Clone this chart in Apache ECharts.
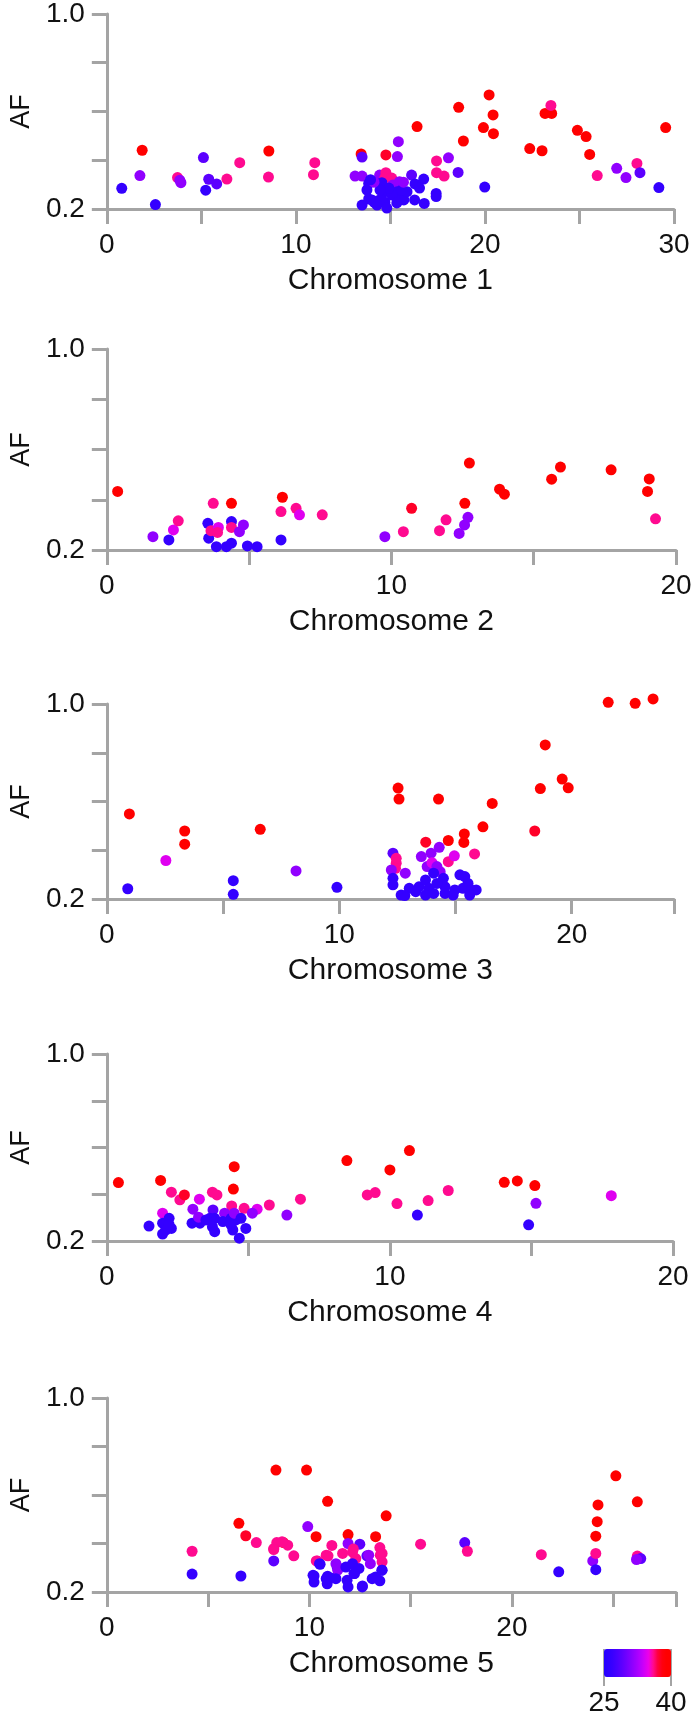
<!DOCTYPE html>
<html><head><meta charset="utf-8">
<script src="https://cdn.jsdelivr.net/npm/echarts@6/dist/echarts.min.js"></script>
<style>html,body{margin:0;padding:0;background:#fff}#c{width:697px;height:1717px}</style>
</head><body><div id="c"></div>
<script>
// ---------- data ----------
const chromosomeNames = ['Chromosome 1', 'Chromosome 2', 'Chromosome 3', 'Chromosome 4', 'Chromosome 5'];
const chromosomeLength = [30, 20, 24.4, 20, 28.1];
const xTickStep = 5;
const xLabelStep = 10;
const afTickStep = 0.2;
const afLabels = ['0.2', '1.0'];
const coverageRange = [25, 40];
const coverageTickLabels = ['25', '40'];
const coverageColors = ['#2400ff','#2e00ff','#3a00ff','#4a00ff','#5c00ff','#7000ff','#8600ff','#9c00ff',
                        '#b400ff','#d000f8','#ee00e8','#ff0a90','#ff0040','#ff0010','#ff0000','#ff0000'];

const chr1Pos = [0.79,1.75,1.87,2.57,3.74,3.92,3.86,5.11,5.39,5.23,5.81,6.35,7.03,8.57,8.55,11.0,10.93,
  13.45,13.5,13.13,13.5,13.85,13.76,13.85,14.15,14.43,14.76,15.42,15.37,14.76,14.7,15.07,14.55,14.71,14.43,14.71,
  15.13,15.48,15.36,15.4,15.71,15.71,15.88,16.12,16.3,16.41,16.76,16.79,17.44,17.44,17.42,17.42,17.84,18.07,18.58,
  18.61,18.86,19.92,19.99,20.22,20.43,20.45,22.37,23.02,23.18,23.53,23.49,24.89,25.35,25.54,25.94,26.97,27.46,28.04,
  28.2,29.2,29.56,14.02,14.55,15.07,15.6,15.34,14.29,14.81,13.5,16.28,16.54,14.92,14.45,14.13,15.69,13.95];
const chr1AF = [0.285,0.337,0.441,0.218,0.329,0.308,0.318,0.411,0.322,0.277,0.303,0.323,0.39,0.438,0.331,0.39,0.341,
  0.426,0.413,0.335,0.335,0.305,0.278,0.241,0.227,0.339,0.422,0.476,0.415,0.349,0.327,0.327,0.308,0.271,0.237,0.227,
  0.298,0.312,0.271,0.244,0.264,0.237,0.271,0.339,0.303,0.538,0.323,0.223,0.397,0.349,0.264,0.251,0.335,0.41,0.35,
  0.617,0.479,0.534,0.29,0.668,0.586,0.509,0.448,0.439,0.592,0.592,0.625,0.523,0.497,0.424,0.337,0.367,0.329,0.387,
  0.349,0.288,0.534,0.237,0.237,0.257,0.278,0.225,0.216,0.204,0.216,0.237,0.286,0.286,0.278,0.31,0.31,0.32];
const chr1Cov = [26.5,31.5,39.5,26.5,36,31.5,31.5,29,29,26.5,29,36,36,39.5,36,36,36,
  39.5,29,31.5,31.5,26.5,26.5,26.5,26.5,31.5,37.5,31.5,31.5,36,36,36,26.5,26.5,26.5,26.5,
  31.5,31.5,26.5,26.5,26.5,26.5,26.5,29,26.5,39.5,26.5,26.5,36,36,26.5,26.5,36,31.5,29,
  39.5,39.5,39.5,26.5,39.5,39.5,39.5,39.5,39.5,39.5,39.5,36,39.5,39.5,39.5,36,31.5,31.5,36,
  29,26.5,39.5,26.5,26.5,26.5,26.5,26.5,26.5,26.5,26.5,26.5,26.5,26.5,26.5,31.5,31.5,26.5];

const chr2Pos = [0.38,1.62,2.18,2.34,2.51,3.55,3.58,3.74,3.66,3.92,3.89,3.85,4.2,4.38,4.38,4.38,4.38,4.66,4.8,4.94,
  5.28,6.12,6.12,6.17,6.65,6.77,7.57,9.77,10.42,10.71,11.69,11.92,12.38,12.57,12.69,12.58,12.74,13.8,13.97,15.63,
  15.94,17.72,19.06,19.0,19.28];
const chr2AF = [0.433,0.253,0.24,0.28,0.316,0.306,0.247,0.386,0.277,0.29,0.27,0.213,0.213,0.227,0.386,0.313,0.29,0.273,0.3,0.216,
  0.213,0.24,0.353,0.41,0.366,0.34,0.34,0.253,0.273,0.366,0.277,0.32,0.266,0.3,0.33,0.386,0.546,0.442,0.422,0.482,
  0.53,0.519,0.483,0.433,0.324];
const chr2Cov = [39.5,31.5,26.5,34.5,36,26.5,26.5,36,36,34.5,36,26.5,26.5,26.5,39.5,26.5,36,31.5,31.5,26.5,
  26.5,26.5,36,39.5,36,34.5,36,31.5,36,37.5,36,36,31.5,31.5,31.5,39.5,39.5,39.5,39.5,39.5,
  39.5,39.5,39.5,39.5,36];

const chr3Pos = [0.9,0.97,2.54,3.35,3.35,5.44,5.44,6.6,8.14,9.9,12.53,12.57,14.27,16.58,16.18,15.38,15.36,14.69,13.72,14.3,
  15.82,14.69,14.95,18.41,18.65,18.86,19.59,19.85,21.57,22.73,23.5,
  13.95,13.53,12.31,12.45,12.45,12.42,12.24,12.84,13.78,13.99,14.2,14.34,12.31,12.31,12.66,13.01,13.43,13.71,13.85,
  14.06,14.48,14.55,14.55,14.2,14.06,15.19,15.4,15.54,15.32,15.68,15.89,14.97,14.9,15.61,13.29,13.71,12.82];
const chr3AF = [0.242,0.549,0.358,0.479,0.425,0.275,0.219,0.486,0.315,0.248,0.655,0.61,0.61,0.592,0.496,0.467,0.432,0.44,0.433,0.412,
  0.385,0.353,0.377,0.479,0.653,0.832,0.692,0.656,1.007,1.003,1.021,
  0.388,0.374,0.388,0.367,0.347,0.326,0.319,0.306,0.333,0.349,0.333,0.312,0.285,0.258,0.216,0.244,0.25,0.278,0.244,
  0.223,0.285,0.25,0.223,0.264,0.306,0.299,0.292,0.264,0.244,0.237,0.237,0.237,0.216,0.216,0.23,0.216,0.214];
const chr3Cov = [26.5,39.5,34.5,39.5,39.5,26.5,26.5,39.5,31.5,26.5,39.5,39.5,39.5,39.5,39.5,39.5,39.5,39.5,37.5,31.5,
  36,36,34.5,37.5,39.5,39.5,39.5,39.5,39.5,39.5,39.5,
  31.5,31.5,29,36,36,36,31.5,31.5,31.5,34.5,31.5,31.5,26.5,26.5,26.5,26.5,26.5,26.5,26.5,
  26.5,26.5,26.5,26.5,26.5,26.5,26.5,26.5,26.5,26.5,26.5,26.5,26.5,26.5,26.5,26.5,26.5,26.5];

const chr4Pos = [0.41,1.9,1.97,1.49,2.28,2.58,2.74,3.27,3.04,3.73,3.89,4.47,4.5,4.41,4.85,5.31,5.14,5.74,6.84,6.36,
  8.48,9.2,9.48,10.0,10.69,10.25,10.97,11.35,12.06,14.04,14.5,15.12,14.9,15.16,17.82,
  1.97,1.97,2.2,2.28,2.08,2.2,3.01,3.29,3.24,3.75,3.81,3.64,3.73,3.81,4.16,4.1,4.39,4.56,4.45,4.68,4.91,4.5,4.74,4.39,3.5];
const chr4AF = [0.45,0.459,0.319,0.264,0.409,0.376,0.397,0.379,0.336,0.409,0.397,0.422,0.518,0.35,0.34,0.336,0.319,0.354,0.379,0.311,
  0.544,0.397,0.407,0.504,0.587,0.36,0.311,0.373,0.416,0.451,0.457,0.437,0.269,0.361,0.394,
  0.276,0.23,0.297,0.254,0.247,0.27,0.276,0.276,0.302,0.333,0.297,0.297,0.261,0.24,0.319,0.283,0.297,0.29,0.247,0.212,0.254,0.319,0.297,0.269,0.29];
const chr4Cov = [39.5,39.5,34.5,26.5,36,36,37.5,34.5,31.5,36,36,39.5,39.5,36,36,34.5,31.5,36,36,31.5,
  39.5,36,36,39.5,39.5,36,26.5,36,36,39.5,39.5,39.5,26.5,31.5,34.5,
  26.5,26.5,26.5,26.5,26.5,26.5,26.5,26.5,31.5,29,26.5,26.5,26.5,26.5,31.5,26.5,26.5,26.5,26.5,26.5,26.5,31.5,26.5,26.5,26.5];

const chr5Pos = [4.21,4.21,6.62,6.52,6.86,7.38,8.24,8.39,8.72,8.93,9.23,8.35,8.24,9.86,9.92,10.33,10.9,10.4,10.53,10.23,
  10.23,10.9,10.88,11.11,10.92,11.91,11.91,12.49,12.17,13.27,13.48,13.59,13.59,13.79,12.84,11.37,11.26,11.86,11.91,12.62,
  12.23,13.27,13.48,13.59,15.49,17.67,17.8,21.45,22.31,23.99,24.14,24.14,24.14,24.21,24.25,25.13,26.19,26.19,26.36,26.15,
  8.65,8.24,11.64,12.13,12.29,10.83,10.34,12.93,13.01,11.31,11.4,11.8,12.13,12.45,12.2,10.18,10.83,11.31,12.61,13.1,13.58,10.5,13.5];
const chr5AF = [0.368,0.274,0.266,0.483,0.432,0.404,0.379,0.404,0.404,0.393,0.349,0.703,0.328,0.703,0.47,0.428,0.574,0.328,0.314,0.266,
  0.241,0.265,0.234,0.392,0.349,0.437,0.4,0.397,0.377,0.428,0.383,0.359,0.324,0.514,0.349,0.303,0.259,0.248,0.221,0.225,
  0.276,0.262,0.246,0.29,0.397,0.404,0.368,0.354,0.283,0.328,0.292,0.359,0.43,0.49,0.559,0.679,0.572,0.348,0.338,0.334,
  0.407,0.375,0.359,0.365,0.338,0.352,0.328,0.352,0.317,0.317,0.29,0.303,0.317,0.297,0.276,0.269,0.255,0.255,0.221,0.255,0.29,0.317,0.352];
const chr5Cov = [36,26.5,26.5,39.5,37.5,36,36,36,37.5,36,36,39.5,29,39.5,31.5,39.5,39.5,36,26.5,26.5,
  26.5,26.5,26.5,36,36,39.5,31.5,29,36,39.5,36,36,36,39.5,29,29,26.5,26.5,26.5,26.5,
  26.5,26.5,26.5,26.5,36,29,36,36,26.5,31.5,26.5,36,39.5,39.5,39.5,39.5,39.5,36,29,31.5,
  36,36,36,36,36,36,36,31.5,31.5,31.5,31.5,26.5,26.5,26.5,26.5,26.5,26.5,26.5,26.5,26.5,26.5,26.5,36];

const positions = [chr1Pos, chr2Pos, chr3Pos, chr4Pos, chr5Pos];
const afs = [chr1AF, chr2AF, chr3AF, chr4AF, chr5AF];
const covs = [chr1Cov, chr2Cov, chr3Cov, chr4Cov, chr5Cov];

// ---------- layout / style ----------
const FONT = "'Liberation Sans', Arial, Helvetica, sans-serif";
const AXIS_GRAY = '#a4a4a4';
const panelBoxes = [
  {left: 102, top: 14,   width: 572, height: 195},
  {left: 98,  top: 349,  width: 578, height: 201},
  {left: 94,  top: 704,  width: 580, height: 195},
  {left: 95,  top: 1054, width: 578, height: 187},
  {left: 97,  top: 1398, width: 579, height: 194}
];
const colorbarBox = {left: 604, top: 1649, width: 67, height: 28};

const near = (a, b) => Math.abs(a - b) < 1e-6;
const grids = [], xAxes = [], yAxes = [], series = [];
panelBoxes.forEach((b, i) => {
  grids.push(Object.assign({containLabel: false}, b));
  xAxes.push({
    gridIndex: i, type: 'value', min: 0, max: chromosomeLength[i], interval: xTickStep,
    axisLine: {onZero: false, lineStyle: {color: AXIS_GRAY, width: 3}},
    axisTick: {length: 15, lineStyle: {color: AXIS_GRAY, width: 3}},
    splitLine: {show: false},
    axisLabel: {margin: 22, fontSize: 28, color: '#111', fontFamily: FONT,
      formatter: v => (near(v % xLabelStep, 0) ? String(Math.round(v)) : '')},
    name: chromosomeNames[i], nameLocation: 'middle', nameGap: 57,
    nameTextStyle: {fontSize: 30, color: '#111', fontFamily: FONT}
  });
  yAxes.push({
    gridIndex: i, type: 'value', min: 0.2, max: 1.0, interval: afTickStep,
    axisLine: {onZero: false, lineStyle: {color: AXIS_GRAY, width: 3}},
    axisTick: {length: 15, lineStyle: {color: AXIS_GRAY, width: 3}},
    splitLine: {show: false},
    axisLabel: {margin: 22, fontSize: 28, color: '#111', fontFamily: FONT,
      formatter: v => (near(v, 0.2) ? afLabels[0] : near(v, 1.0) ? afLabels[1] : '')},
    name: 'AF', nameLocation: 'middle', nameGap: 66,
    nameTextStyle: {fontSize: 27, color: '#111', fontFamily: FONT}
  });
  series.push({
    type: 'scatter', xAxisIndex: i, yAxisIndex: i, clip: false,
    symbol: 'circle', symbolSize: 11,
    data: positions[i].map((x, k) => [x, afs[i][k], covs[i][k]]),
    itemStyle: {opacity: 1},
    emphasis: {disabled: true}
  });
});

// colour bar axis
grids.push(Object.assign({}, colorbarBox));
xAxes.push({
  gridIndex: 5, type: 'value', min: coverageRange[0], max: coverageRange[1],
  interval: coverageRange[1] - coverageRange[0],
  axisLine: {show: false},
  axisTick: {length: 10, lineStyle: {color: AXIS_GRAY, width: 2}},
  splitLine: {show: true, lineStyle: {color: AXIS_GRAY, width: 2}},
  axisLabel: {margin: 13, fontSize: 28, color: '#111', fontFamily: FONT,
    formatter: v => (near(v, coverageRange[0]) ? coverageTickLabels[0] : coverageTickLabels[1])}
});
yAxes.push({gridIndex: 5, type: 'value', min: 0, max: 1, show: false});

const chart = echarts.init(document.getElementById('c'), null, {renderer: 'canvas'});
chart.setOption({
  animation: false,
  backgroundColor: '#fff',
  grid: grids, xAxis: xAxes, yAxis: yAxes, series: series,
  visualMap: {
    type: 'continuous', min: coverageRange[0], max: coverageRange[1], dimension: 2,
    seriesIndex: [0, 1, 2, 3, 4], orient: 'horizontal',
    left: colorbarBox.left, top: colorbarBox.top,
    itemWidth: colorbarBox.height, itemHeight: colorbarBox.width,
    padding: 0, calculable: false, hoverLink: false, text: null, showLabel: false,
    inRange: {color: coverageColors}
  }
});
</script></body></html>
